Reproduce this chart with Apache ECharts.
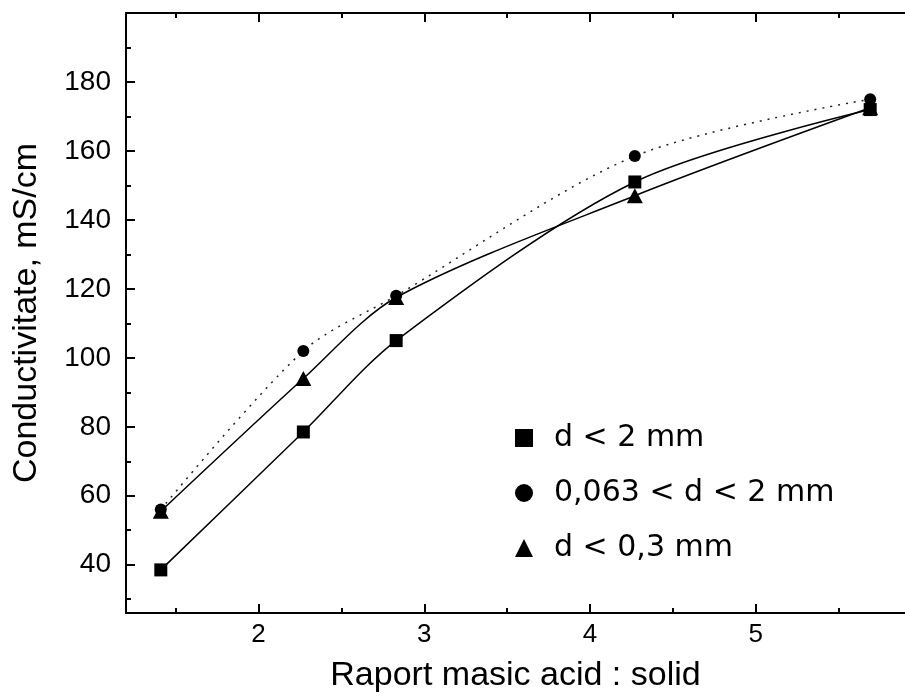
<!DOCTYPE html>
<html>
<head>
<meta charset="utf-8">
<title>Conductivitate</title>
<script src="https://cdn.jsdelivr.net/npm/echarts@6/dist/echarts.min.js"></script>
<style>
  html, body { margin: 0; padding: 0; background: #fff; }
  #chart { width: 905px; height: 698px; }
</style>
</head>
<body>
<div id="chart"></div>
<script>
// Mass ratio acid : solid (x) and measured conductivity in mS/cm (y)
var ratios = [1.41, 2.27, 2.83, 4.27, 5.69];
var seriesNames = ['d < 2 mm', '0,063 < d < 2 mm', 'd < 0,3 mm'];
var condSquare = [38.5, 78.5, 105, 151, 172];
var condCircle = [56, 102, 118, 158.5, 175];
var condTriangle = [55.5, 94, 117.5, 147, 172.5];

// Axis ticks
var xMajor = [2, 3, 4, 5];
var xMinor = [1.5, 2.5, 3.5, 4.5, 5.5];
var yMajor = [40, 60, 80, 100, 120, 140, 160, 180];
var yMinor = [30, 50, 70, 90, 110, 130, 150, 170, 190];

function pairs(ys) {
  return ratios.map(function (x, i) { return [x, ys[i]]; });
}

var X_MIN = 1.2, X_MAX = 5.9, Y_MIN = 26, Y_MAX = 200;
var black = '#000';
var axisLineStyle = { color: black, width: 2 };

function xAx(pos, ticks, len, showLine, labels, name) {
  var a = {
    type: 'value', position: pos, min: X_MIN, max: X_MAX,
    axisLine: { show: showLine, onZero: false, lineStyle: axisLineStyle },
    axisTick: { show: true, inside: true, length: len, customValues: ticks, lineStyle: { color: black, width: 2 } },
    axisLabel: { show: !!labels },
    splitLine: { show: false }
  };
  if (labels) {
    a.axisLabel = { show: true, customValues: ticks, color: black, fontSize: 26,
      fontFamily: 'Liberation Sans', margin: 9 };
  }
  if (name) {
    a.name = name; a.nameLocation = 'middle'; a.nameGap = 46;
    a.nameTextStyle = { color: black, fontSize: 34, fontFamily: 'Liberation Sans' };
  }
  return a;
}

function yAx(ticks, len, showLine, labels, name) {
  var a = {
    type: 'value', position: 'left', min: Y_MIN, max: Y_MAX,
    axisLine: { show: showLine, onZero: false, lineStyle: axisLineStyle },
    axisTick: { show: true, inside: true, length: len, customValues: ticks, lineStyle: { color: black, width: 2 } },
    axisLabel: { show: !!labels },
    splitLine: { show: false }
  };
  if (labels) {
    a.axisLabel = { show: true, customValues: ticks, color: black, fontSize: 28,
      fontFamily: 'Liberation Sans', margin: 15 };
  }
  if (name) {
    a.name = name; a.nameLocation = 'middle'; a.nameGap = 82;
    a.nameTextStyle = { color: black, fontSize: 34, fontFamily: 'Liberation Sans' };
  }
  return a;
}

var chart = echarts.init(document.getElementById('chart'), null, { renderer: 'canvas' });

chart.setOption({
  animation: false,
  backgroundColor: '#fff',
  grid: { left: 126, right: 0, top: 13, bottom: 84, containLabel: false },
  xAxis: [
    xAx('bottom', xMajor, 9, true, true, 'Raport masic acid : solid'),
    xAx('bottom', xMinor, 5, false, false),
    xAx('top', xMajor, 9, true, false),
    xAx('top', xMinor, 5, false, false)
  ],
  yAxis: [
    yAx(yMajor, 9, true, true, 'Conductivitate, mS/cm'),
    yAx(yMinor, 5, false, false)
  ],
  legend: {
    orient: 'vertical',
    left: 510, top: 418,
    itemWidth: 18, itemHeight: 18, itemGap: 25,
    data: [
      { name: seriesNames[0], icon: 'rect' },
      { name: seriesNames[1], icon: 'circle' },
      { name: seriesNames[2], icon: 'triangle' }
    ],
    textStyle: { color: black, fontSize: 30, lineHeight: 30, fontFamily: 'DejaVu Sans',
      padding: [0, 0, 0, 16] }
  },
  series: [
    {
      name: seriesNames[1], type: 'line', data: pairs(condCircle),
      smooth: 0.3,
      symbol: 'circle', symbolSize: 12,
      itemStyle: { color: black },
      lineStyle: { color: '#222', width: 1.5, type: [2, 6] },
      z: 2
    },
    {
      name: seriesNames[0], type: 'line', data: pairs(condSquare),
      smooth: 0.3,
      symbol: 'rect', symbolSize: 13,
      itemStyle: { color: black },
      lineStyle: { color: black, width: 1.5 },
      z: 3
    },
    {
      name: seriesNames[2], type: 'line', data: pairs(condTriangle),
      smooth: 0.3,
      symbol: 'triangle', symbolSize: [16, 15],
      itemStyle: { color: black },
      lineStyle: { color: black, width: 1.5 },
      z: 4
    }
  ]
});
</script>
</body>
</html>
